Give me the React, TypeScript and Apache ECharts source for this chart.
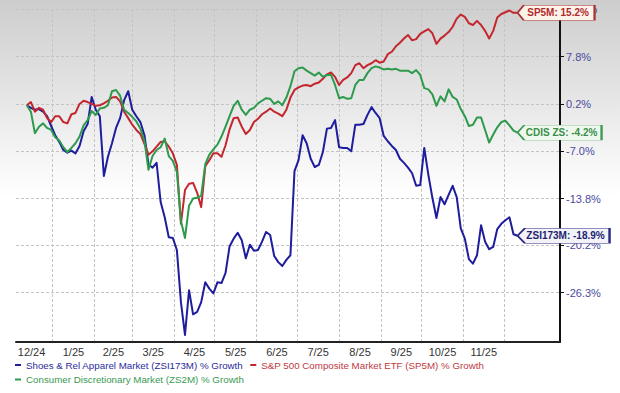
import React, { useEffect, useRef } from 'react';
import * as echarts from 'echarts';

const FONT = '"Liberation Sans", Arial, Helvetica, sans-serif';

// Level that represents 0% growth on the logarithmic price axis
const BASE_LEVEL = 136.6;
// x positions are days after 2024-12-01
const START_DAY = 12;
const STEP_DAYS = 3;
const X_MIN_DAY = 4;
const X_MAX_DAY = 406.4;
const Y_MIN_GROWTH = -32.35;
const Y_MAX_GROWTH = 15.86;

const monthStartDays = [31, 62, 90, 121, 151, 182, 212, 243, 274, 304, 335, 365];
const monthLabelDays = [15.5, 46.5, 76, 105.5, 136, 166.5, 197, 227.5, 258.5, 289, 319.5, 350];
const monthLabels = ['12/24', '1/25', '2/25', '3/25', '4/25', '5/25', '6/25', '7/25', '8/25', '9/25', '10/25', '11/25'];
const yTickGrowth = [-26.3, -20.2, -13.8, -7.0, 0.2, 7.8, 15.8];

const shoesName = 'Shoes & Rel Apparel Market (ZSI173M) % Growth';
const sp500Name = 'S&P 500 Composite Market ETF (SP5M) % Growth';
const consDiscName = 'Consumer Discretionary Market (ZS2M) % Growth';

// % growth, every 3 days
const shoes = [
  0.0, -0.4, -0.7, -0.6, -1.0, -1.7, -3.2, -4.6, -5.6, -6.8,
  -7.2, -6.9, -7.3, -6.2, -4.0, -2.9, 1.3, -0.7, -1.7, -10.6,
  -7.8, -5.8, -3.5, -2.0, 0.8, 2.2, -0.7, -1.7, -2.6, -4.6,
  -8.9, -9.4, -8.7, -14.3, -16.4, -19.1, -19.2, -20.8, -27.5, -31.5,
  -26.0, -29.0, -28.7, -27.5, -25.0, -25.8, -26.4, -25.0, -25.1, -23.8,
  -20.3, -19.3, -18.5, -19.5, -21.9, -20.1, -20.9, -20.8, -19.7, -18.4,
  -18.8, -21.6, -22.4, -22.9, -22.1, -21.5, -9.9, -8.3, -4.6, -5.8,
  -8.1, -9.3, -9.0, -7.1, -3.6, -3.5, -2.3, -6.4, -6.5, -6.5,
  -7.0, -3.0, -3.0, -2.9, -1.5, -0.3, -1.2, -2.0, -4.7, -5.5,
  -6.2, -6.8, -8.1, -8.7, -9.4, -10.2, -12.0, -11.9, -6.5, -10.4,
  -13.7, -16.5, -13.6, -14.6, -13.3, -12.0, -13.6, -17.9, -19.3, -22.0,
  -22.6, -21.5, -17.5, -19.7, -20.7, -20.4, -18.0, -17.3, -16.8, -16.4,
  -18.7, -18.9,
];

const sp500 = [
  0.0, 0.5, -1.0, -0.4, -0.7, -2.0, -2.6, -1.7, -1.7, -2.6,
  -2.8, -1.4, -1.2, 0.2, 0.7, 0.5, 0.2, -0.1, 0.0, 0.3,
  0.7, 1.2, 1.3, 0.6, -1.0, -2.0, -3.0, -3.8, -4.4, -5.9,
  -7.5, -7.0, -6.3, -5.6, -5.5, -6.3, -7.3, -9.0, -17.3, -12.6,
  -11.7, -11.6, -13.0, -15.0, -9.2, -8.3, -7.3, -7.3, -7.8, -6.1,
  -3.7, -2.0, -1.9, -3.3, -4.4, -3.8, -2.6, -2.1, -1.4, -1.0,
  -0.5, -1.0, -1.3, -1.7, -0.7, 1.2, 2.4, 2.8, 3.1, 3.2,
  3.0, 3.4, 3.6, 4.2, 4.9, 5.2, 4.5, 3.2, 4.0, 4.4,
  5.1, 6.4, 6.7, 5.9, 6.4, 6.7, 7.2, 6.8, 7.0, 8.2,
  8.6, 9.5, 10.1, 10.8, 11.4, 10.5, 10.7, 11.6, 12.0, 12.4,
  11.7, 9.9, 10.8, 11.3, 11.9, 12.8, 14.2, 14.9, 14.5, 13.4,
  13.1, 13.8, 13.1, 12.1, 10.8, 12.1, 14.4, 15.0, 15.3, 15.6,
  15.2, 15.2,
];

const consDisc = [
  0.0, -1.0, -4.3, -3.3, -2.8, -3.5, -3.8, -4.9, -5.4, -6.4,
  -7.1, -6.5, -5.8, -4.8, -3.1, -2.3, -0.9, -1.5, -0.5, -0.4,
  0.0, 2.2, 2.4, 1.5, -0.7, -1.2, -1.8, -2.5, -3.6, -5.4,
  -9.7, -7.7, -6.8, -6.4, -5.1, -7.7, -8.4, -10.0, -16.9, -19.2,
  -14.8, -13.8, -13.7, -13.4, -8.9, -7.5, -6.7, -6.0, -4.8, -3.3,
  -1.7, -0.1, 0.7, -0.7, -1.5, -0.7, -0.4, 0.3, 0.7, 1.1,
  1.0, 0.2, 0.6, 0.0, 1.2, 3.0, 5.4, 5.9, 6.0, 5.5,
  5.1, 4.7, 5.2, 4.5, 4.8, 4.8, 3.2, 1.1, 1.3, 1.0,
  1.1, 3.2, 4.0, 4.0, 5.1, 5.9, 6.2, 6.0, 5.7, 5.8,
  5.7, 5.8, 5.5, 5.5, 5.5, 5.1, 5.6, 4.8, 2.7, 2.5,
  1.7, -0.1, 1.4, 0.6, 2.5, 1.3, 0.9, -0.6, -1.7, -3.2,
  -3.0, -1.9, -1.9, -3.8, -5.7, -4.5, -3.4, -2.6, -2.4, -3.1,
  -3.9, -4.2,
];

const toPoints = (vals: number[]) =>
  vals.map((v, i) => [START_DAY + STEP_DAYS * i, BASE_LEVEL + v]);

const nearestIndex = (arr: number[], v: number) => {
  let best = 0;
  for (let i = 1; i < arr.length; i++) {
    if (Math.abs(arr[i] - v) < Math.abs(arr[best] - v)) best = i;
  }
  return best;
};

function makeSeries(
  name: string,
  vals: number[],
  color: string,
  tag: string,
  boxWidth: number,
  fill: string,
  border: string,
  textColor: string
) {
  const pts = toPoints(vals);
  const last = pts[pts.length - 1];
  const lastVal = vals[vals.length - 1];
  return {
    name,
    type: 'line',
    data: pts,
    showSymbol: false,
    symbol: 'none',
    color,
    lineStyle: { color, width: 2, join: 'round' },
    clip: false,
    markPoint: {
      silent: true,
      symbol: 'path://M0,8 L8,0 L100,0 L100,16 L8,16 Z',
      symbolSize: [boxWidth, 15],
      symbolOffset: [boxWidth / 2, 0],
      symbolKeepAspect: false,
      itemStyle: { color: fill, borderColor: border, borderWidth: 1 },
      label: {
        show: true,
        position: 'inside',
        offset: [2, 0],
        formatter: `${tag}: ${lastVal.toFixed(1)}%`,
        color: textColor,
        fontSize: 10,
        fontWeight: 'bold',
        fontFamily: FONT,
      },
      data: [{ coord: last }],
    },
  };
}

export default function App() {
  const ref = useRef<HTMLDivElement>(null);

  useEffect(() => {
    if (!ref.current) return;
    const chart = echarts.init(ref.current, null, { renderer: 'svg' });

    const blue = '#1d1d9e';
    const red = '#c4262e';
    const green = '#2e9a4c';

    const option: any = {
      animation: false,
      backgroundColor: new echarts.graphic.LinearGradient(0, 0, 0, 1, [
        { offset: 0, color: '#cdcdcd' },
        { offset: 0.5, color: '#ffffff' },
        { offset: 1, color: '#ffffff' },
      ]),
      textStyle: { fontFamily: FONT },
      grid: { left: 16, right: 60, top: 9, bottom: 51, containLabel: false, outerBoundsMode: 'none' },
      legend: [
        {
          data: [
            { name: shoesName, textStyle: { color: '#2b2b9b' } },
            { name: sp500Name, textStyle: { color: '#c0393f' } },
          ],
          left: 15,
          top: 360,
          padding: 0,
          icon: 'rect',
          itemWidth: 6,
          itemHeight: 2,
          itemGap: 7,
          selectedMode: false,
          textStyle: { fontSize: 9.75, fontFamily: FONT },
        },
        {
          data: [{ name: consDiscName, textStyle: { color: '#3a9a52' } }],
          left: 15,
          top: 374.5,
          padding: 0,
          icon: 'rect',
          itemWidth: 6,
          itemHeight: 2,
          itemGap: 7,
          selectedMode: false,
          textStyle: { fontSize: 9.75, fontFamily: FONT },
        },
      ],
      xAxis: {
        type: 'value',
        min: X_MIN_DAY,
        max: X_MAX_DAY,
        axisLine: { show: true, onZero: false, lineStyle: { color: '#222', width: 2 } },
        axisTick: { show: false, customValues: monthStartDays },
        axisLabel: {
          customValues: monthLabelDays,
          formatter: (v: number) => monthLabels[nearestIndex(monthLabelDays, v)],
          color: '#333',
          fontSize: 11,
          margin: 4,
          fontFamily: FONT,
        },
        splitLine: { show: true, lineStyle: { color: '#c4c4c4', type: [3, 2], width: 1 } },
      },
      yAxis: {
        type: 'log',
        logBase: 10,
        position: 'right',
        min: BASE_LEVEL + Y_MIN_GROWTH,
        max: BASE_LEVEL + Y_MAX_GROWTH,
        axisLine: { show: true, onZero: false, lineStyle: { color: '#111', width: 2 } },
        axisTick: {
          show: true,
          inside: false,
          length: 4,
          customValues: yTickGrowth.map((g) => BASE_LEVEL + g),
          lineStyle: { color: '#111', width: 1 },
        },
        axisLabel: {
          customValues: yTickGrowth.map((g) => BASE_LEVEL + g),
          formatter: (v: number) => yTickGrowth[nearestIndex(yTickGrowth, v - BASE_LEVEL)].toFixed(1) + '%',
          color: '#4a4a9c',
          fontSize: 11,
          margin: 6,
          fontFamily: FONT,
        },
        splitLine: { show: true, lineStyle: { color: '#c4c4c4', type: [3, 2], width: 1 } },
      },
      series: [
        makeSeries(shoesName, shoes, blue, 'ZSI173M', 92, '#f2f2f8', '#2a2a80', '#1f1f70'),
        makeSeries(sp500Name, sp500, red, 'SP5M', 77, '#fdf3ea', '#a83232', '#b02a2a'),
        makeSeries(consDiscName, consDisc, green, 'CDIS ZS', 84, '#eef8ee', '#3c9a50', '#3b8f4b'),
      ],
    };

    chart.setOption(option);
    return () => chart.dispose();
  }, []);

  return (
    <div
      ref={ref}
      style={{ position: 'absolute', left: 0, top: 0, width: 620, height: 393 }}
    />
  );
}
